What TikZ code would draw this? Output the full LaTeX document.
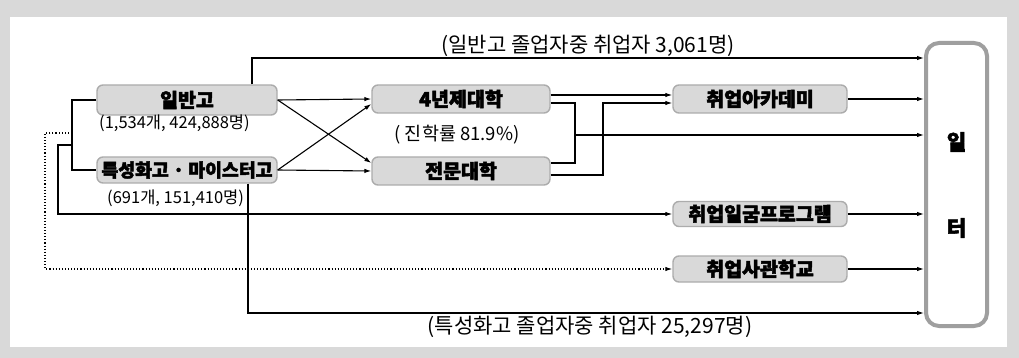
\documentclass[tikz,border=0pt]{standalone}
\usepackage{fontspec}
\setmainfont{Noto Sans CJK KR}
\newfontfamily\heavy[FakeBold=2.5]{Noto Sans CJK KR}
\usetikzlibrary{arrows.meta}
\begin{document}
\begin{tikzpicture}[x=1pt,y=-1pt,
  line/.style={line width=1.1pt, draw=black},
  arr/.style={line, -{Latex[length=7pt,width=4.5pt]}},
  box/.style={draw=gray!65, line width=1.4pt, fill=gray!30, rounded corners=6pt,
    inner sep=0pt, font=\heavy\bfseries\fontsize{19.5}{19.5}\selectfont},
  small/.style={font=\fontsize{16.5}{16.5}\selectfont, inner sep=0pt},
  lab/.style={font=\fontsize{21}{21}\selectfont, inner sep=0pt},
  work/.style={draw=gray!75, line width=4pt, fill=white, rounded corners=13pt}]
\fill[gray!30] (0,0) rectangle (1019,358);
\fill[white] (10,17) rectangle (1007,347);
\useasboundingbox (0,0) rectangle (1019,358);

% nodes
\node[box, minimum width=180pt, minimum height=30pt] (ilban) at (187,100) {일반고};
\node[box, minimum width=180pt, minimum height=26pt, font=\heavy\bfseries\fontsize{18.3}{18.3}\selectfont] (teuk) at (187,170) {특성화고 · 마이스터고};
\node[small, anchor=west] (ilbann) at (99,123) {(1,534개, 424,888명)};
\node[small, anchor=west] (teukn) at (107,198) {(691개, 151,410명)};
\node[box, minimum width=178pt, minimum height=28pt] (univ) at (461,99) {4년제대학};
\node[lab, font=\fontsize{18.5}{18.5}\selectfont] (jinhak) at (457,135) {( 진학률 81.9\%)};
\node[box, minimum width=178pt, minimum height=28pt] (jeon) at (461,171) {전문대학};
\node[box, minimum width=174pt, minimum height=28pt] (acad) at (760,99) {취업아카데미};
\node[box, minimum width=174pt, minimum height=25pt] (ilgum) at (760,214) {취업일굼프로그램};
\node[box, minimum width=174pt, minimum height=26pt] (sagwan) at (760,269) {취업사관학교};
\node[work, minimum width=61pt, minimum height=283pt] (work) at (956.5,184.5) {};
\node[font=\heavy\bfseries\fontsize{21}{21}\selectfont] (il) at (956.5,142) {일};
\node[font=\heavy\bfseries\fontsize{21}{21}\selectfont] (teo) at (956.5,228) {터};

\coordinate (toprow) at (0,58);
\coordinate (botrow) at (0,313);
\coordinate (lb) at (72,0);
\coordinate (jn) at (72,145);
\coordinate (jd) at (72,133);
\coordinate (l2) at (58,145);
\coordinate (l3) at (45,133);
\coordinate (br) at (575,135);
\coordinate (br2) at (603,103);

% top route
\draw[arr] ([xshift=65pt]ilban.north) |- (work.west |- toprow);
\node[lab] (toplab) at (588,46) {(일반고 졸업자중 취업자 3,061명)};
% bottom route
\draw[arr] ([xshift=61pt]teuk.south) |- (work.west |- botrow);
\node[lab] (botlab) at (590,327) {(특성화고 졸업자중 취업자 25,297명)};

% left bracket
\draw[line] (ilban.west) -- (lb |- ilban.west) -- (lb |- teuk.west) -- (teuk.west);
\draw[arr] (jn) -- (l2) |- (ilgum.west);
\draw[line, dotted, -{Latex[length=7pt,width=4.5pt]}] (jd) -- (l3) |- (sagwan.west);

% crossing
\draw[arr] (ilban.east) -- (univ.west);
\draw[arr] (ilban.east) -- ([yshift=8pt]jeon.west);
\draw[arr] (teuk.east) -- ([yshift=-5pt]univ.west);
\draw[arr] (teuk.east) -- (jeon.west);

% to academy / work
\draw[arr] ([yshift=4pt]univ.east) -- ([yshift=4pt]acad.west);
\draw[line] ([yshift=-4pt]univ.east) -| (br) |- ([yshift=8pt]jeon.east);
\draw[arr] (br) -- (work.west |- br);
\draw[arr] ([yshift=-4pt]jeon.east) -| (br2) -- (acad.west |- br2);
\draw[arr] (acad.east) -- (work.west |- acad.east);
\draw[arr] (ilgum.east) -- (work.west |- ilgum.east);
\draw[arr] (sagwan.east) -- (work.west |- sagwan.east);
\end{tikzpicture}
\end{document}
